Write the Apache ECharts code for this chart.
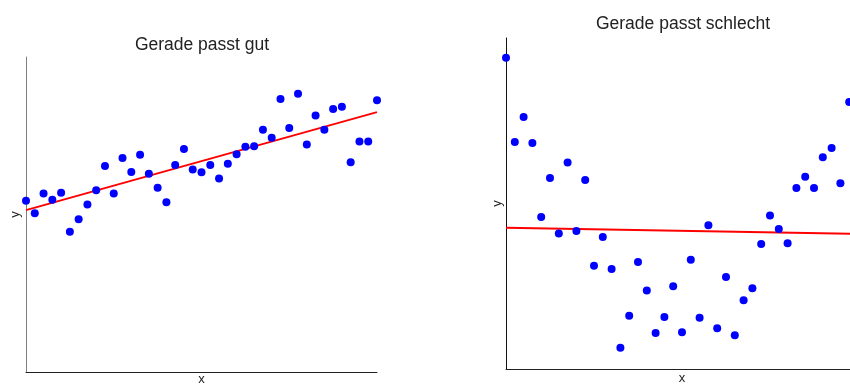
<!DOCTYPE html>
<html>
<head>
<meta charset="utf-8">
<script src="https://cdn.jsdelivr.net/npm/echarts@6/dist/echarts.min.js"></script>
<style>
  html, body { margin: 0; padding: 0; background: #fff; }
  #chart { width: 850px; height: 387px; }
</style>
</head>
<body>
<div id="chart"></div>
<script>
// left panel: roughly linear data
const goodX = [0, 1, 2, 3, 4, 5, 6, 7, 8, 9, 10, 11, 12, 13, 14, 15, 16, 17, 18, 19, 20,
  21, 22, 23, 24, 25, 26, 27, 28, 29, 30, 31, 32, 33, 34, 35, 36, 37, 38, 39, 40]
const goodY = [5.44, 5.04, 5.67, 5.47, 5.69, 4.45, 4.85, 5.32, 5.77, 6.54, 5.67, 6.79, 6.35, 6.90,
  6.29, 5.85, 5.39, 6.57, 7.08, 6.43, 6.34, 6.57, 6.14, 6.61, 6.91, 7.15, 7.17, 7.69, 7.44, 8.67,
  7.75, 8.83, 7.22, 8.14, 7.69, 8.35, 8.42, 6.66, 7.32, 7.32, 8.63]
const goodFitX = [0, 40]
const goodFitY = [5.14, 8.25]

// right panel: U-shaped data, straight line does not fit
const badX = [0, 1, 2, 3, 4, 5, 6, 7, 8, 9, 10, 11, 12, 13, 14, 15, 16, 17, 18, 19,
  20, 21, 22, 23, 24, 25, 26, 27, 28, 29, 30, 31, 32, 33, 34, 35, 36, 37, 38, 39]
const badY = [9.40, 6.86, 7.61, 6.83, 4.59, 5.77, 4.09, 6.24, 4.17, 5.71, 3.12, 3.99, 3.02, 0.64,
  1.61, 3.23, 2.37, 1.09, 1.57, 2.50, 1.11, 3.30, 1.55, 4.34, 1.23, 2.78, 1.02, 2.08, 2.44, 3.78,
  4.64, 4.23, 3.80, 5.47, 5.81, 5.47, 6.40, 6.68, 5.61, 8.07]
const badFitX = [0, 40]
const badFitY = [4.27, 4.08]

const titles = ['Gerade passt gut', 'Gerade passt schlecht']

const fontFamily = '"Liberation Sans", Arial, sans-serif'
const pointColor = '#0000ff'
const lineColor = '#ff0000'

function pairs (xs, ys) {
  return xs.map((x, i) => [x, ys[i]])
}

function xAxisFor (gridIndex, gap) {
  return {
    type: 'value',
    gridIndex: gridIndex,
    min: 0,
    max: 40,
    name: 'x',
    nameLocation: 'middle',
    nameGap: gap,
    nameTextStyle: { color: '#222', fontSize: 13, fontFamily: fontFamily },
    axisLine: { show: true, onZero: false, lineStyle: { color: '#222', width: 1 } },
    axisTick: { show: false },
    axisLabel: { show: false },
    splitLine: { show: false }
  }
}

function yAxisFor (gridIndex, axisColor, gap) {
  return {
    type: 'value',
    gridIndex: gridIndex,
    min: 0,
    max: 10,
    name: 'y',
    nameLocation: 'middle',
    nameGap: gap,
    nameRotate: 90,
    nameTextStyle: { color: '#222', fontSize: 13, fontFamily: fontFamily },
    axisLine: { show: true, onZero: false, lineStyle: { color: axisColor, width: 1 } },
    axisTick: { show: false },
    axisLabel: { show: false },
    splitLine: { show: false }
  }
}

const chart = echarts.init(document.getElementById('chart'), null, { renderer: 'canvas' })

const options = {
  animation: false,
  backgroundColor: '#fff',
  title: [{
    text: titles[0],
    left: 197,
    top: 31,
    textAlign: 'center',
    textStyle: { color: '#222', fontSize: 17.5, fontWeight: 'normal', fontFamily: fontFamily }
  }, {
    text: titles[1],
    left: 678,
    top: 10,
    textAlign: 'center',
    textStyle: { color: '#222', fontSize: 17.5, fontWeight: 'normal', fontFamily: fontFamily }
  }],
  grid: [
    { left: 26, right: 473, top: 57, bottom: 15, outerBoundsMode: 'none' },
    { left: 506, right: -8, top: 38, bottom: 18, outerBoundsMode: 'none' }
  ],
  xAxis: [xAxisFor(0, 1), xAxisFor(1, 3)],
  yAxis: [yAxisFor(0, '#7f7f7f', 4), yAxisFor(1, '#111', 2)],
  series: [{
    type: 'line',
    xAxisIndex: 0,
    yAxisIndex: 0,
    symbol: 'none',
    lineStyle: { color: lineColor, width: 2 },
    data: pairs(goodFitX, goodFitY),
    z: 2
  }, {
    type: 'scatter',
    xAxisIndex: 0,
    yAxisIndex: 0,
    symbolSize: 8,
    itemStyle: { color: pointColor, opacity: 1 },
    data: pairs(goodX, goodY),
    z: 3
  }, {
    type: 'line',
    xAxisIndex: 1,
    yAxisIndex: 1,
    symbol: 'none',
    lineStyle: { color: lineColor, width: 2 },
    data: pairs(badFitX, badFitY),
    z: 2
  }, {
    type: 'scatter',
    xAxisIndex: 1,
    yAxisIndex: 1,
    symbolSize: 8,
    itemStyle: { color: pointColor, opacity: 1 },
    data: pairs(badX, badY),
    z: 3
  }]
}

chart.setOption(options)
</script>
</body>
</html>
